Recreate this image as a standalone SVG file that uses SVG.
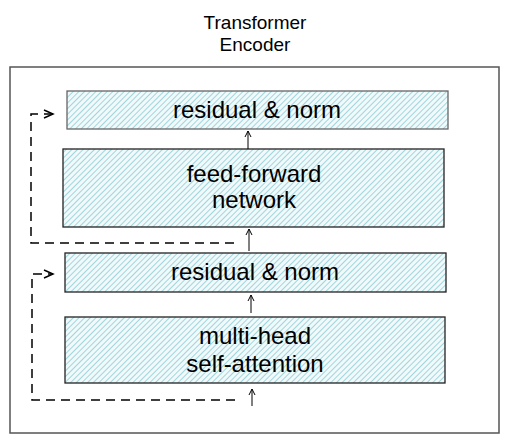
<svg xmlns="http://www.w3.org/2000/svg" width="509" height="442" viewBox="0 0 509 442">
<style>
.t{font-family:"Liberation Sans",Arial,sans-serif;fill:#000;text-anchor:middle}
.lbl{font-size:24px}
.ttl{font-size:19px}
.box{fill:url(#hatch);stroke:#222;stroke-width:1.3}
.arr{stroke:#000;stroke-width:1;fill:none;marker-end:url(#ah)}
.dash{stroke:#000;stroke-width:1.5;fill:none;stroke-dasharray:9 6;marker-end:url(#oh)}
</style>
<defs>
<pattern id="hatch" patternUnits="userSpaceOnUse" width="4" height="4" patternTransform="rotate(45)">
<rect width="4" height="4" fill="#f1f9fa"/>
<line x1="0" y1="0" x2="0" y2="4" stroke="#74c3cd" stroke-width="1.3"/>
</pattern>
<marker id="ah" markerWidth="8" markerHeight="8" refX="6" refY="4" orient="auto" markerUnits="userSpaceOnUse">
<path d="M0,1 L6,4 L0,7" fill="none" stroke="#000" stroke-width="1"/>
</marker>
<marker id="oh" markerWidth="12" markerHeight="12" refX="10" refY="6" orient="auto" markerUnits="userSpaceOnUse">
<path d="M1,2 L10,6 L1,10" fill="none" stroke="#000" stroke-width="1.5"/>
</marker>
</defs>
<rect x="10" y="67" width="489" height="366" fill="#fff" stroke="#555" stroke-width="1.5"/>
<g id="title">
<text class="t ttl" x="255" y="29">Transformer</text>
<text class="t ttl" x="255" y="51">Encoder</text>
</g>
<g id="norm2">
<rect class="box" x="67" y="91" width="381" height="38" style="stroke:#666"/>
<text class="t lbl" x="257" y="118">residual &amp; norm</text>
</g>
<g id="ffn">
<rect class="box" x="63" y="149" width="381" height="78"/>
<text class="t lbl" x="254" y="182">feed-forward</text>
<text class="t lbl" x="254" y="208">network</text>
</g>
<g id="norm1">
<rect class="box" x="65" y="253" width="381" height="39"/>
<text class="t lbl" x="255" y="280">residual &amp; norm</text>
</g>
<g id="mhsa">
<rect class="box" x="65" y="317" width="380" height="66"/>
<text class="t lbl" x="255" y="344">multi-head</text>
<text class="t lbl" x="255" y="372">self-attention</text>
</g>
<g id="connectors">
<line class="arr" x1="248" y1="149" x2="248" y2="131"/>
<line class="arr" x1="249" y1="251" x2="249" y2="229"/>
<line class="arr" x1="251" y1="313" x2="251" y2="295"/>
<line class="arr" x1="252" y1="406" x2="252" y2="389"/>
<path class="dash" d="M234,243 H31 V114 H53"/>
<path class="dash" d="M235,400 H32 V274 H53"/>
</g>
</svg>
